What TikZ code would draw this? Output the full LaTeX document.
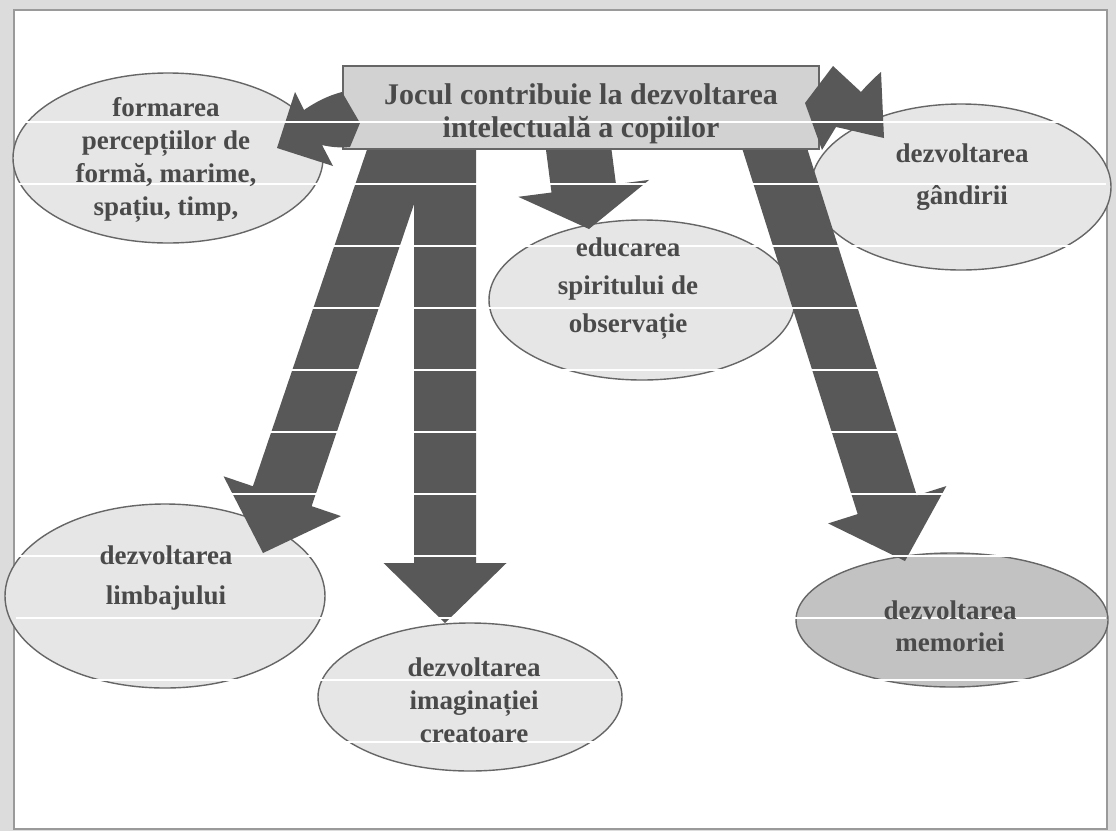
\documentclass[tikz,border=0pt]{standalone}
\usepackage{fontspec}
\setmainfont{Liberation Serif}
\usetikzlibrary{calc,shapes.geometric}
\definecolor{arrowgray}{HTML}{585858}
\definecolor{boxfill}{HTML}{D2D2D2}
\definecolor{ellfill}{HTML}{E6E6E6}
\definecolor{memfill}{HTML}{C2C2C2}
\definecolor{linegray}{HTML}{666666}
\definecolor{textgray}{HTML}{4A4A4A}
\definecolor{outerbg}{HTML}{DCDCDC}
\definecolor{framecol}{HTML}{9A9A9A}
\tikzset{
  ell/.style={ellipse, draw=linegray, line width=1.4pt, fill=ellfill, inner sep=0pt},
  mainbox/.style={rectangle, draw=linegray, line width=1.6pt, fill=boxfill, inner sep=0pt,
    minimum width=476pt, minimum height=83pt},
  lbl/.style={text=textgray, align=center, inner sep=0pt, font=\bfseries\fontsize{27}{33}\selectfont},
  arrowfill/.style={fill=arrowgray},
  stripe/.style={draw=white, line width=2pt}
}
% #1 start coordinate, #2 tip coordinate, #3 shaft half width, #4 head half width, #5 head length
\newcommand{\blockarrow}[5]{%
  \coordinate (#1-b) at ($(#2)!#5!(#1)$);
  \fill[arrowfill] ($(#1)!#3!90:(#2)$) -- ($(#1-b)!#3!90:(#2)$) -- ($(#1-b)!#4!90:(#2)$)
    -- (#2) -- ($(#1-b)!#4!-90:(#2)$) -- ($(#1-b)!#3!-90:(#2)$) -- ($(#1)!#3!-90:(#2)$) -- cycle;
}
\begin{document}
\begin{tikzpicture}[x=1pt,y=-1pt]
\useasboundingbox (0,0) rectangle (1116,831);
\fill[outerbg] (0,0) rectangle (1116,831);
\fill[white] (14,10) rectangle (1107,829);
\draw[framecol, line width=1.2pt] (14,10) rectangle (1107,829);

% ellipses
\node[ell, minimum width=310pt, minimum height=170pt] (form) at (168,158) {};
\node[ell, minimum width=300pt, minimum height=166pt] (gand) at (961,187) {};
\node[ell, minimum width=306pt, minimum height=160pt] (educ) at (642,300) {};
\node[ell, minimum width=320pt, minimum height=184pt] (limb) at (165,596) {};
\node[ell, minimum width=304pt, minimum height=148pt] (imag) at (470,697) {};
\node[ell, fill=memfill, minimum width=312pt, minimum height=134pt] (memo) at (952,620) {};

% long arrows (start under the box)
\coordinate (sC) at (403,140); \coordinate (tC) at (263,553);
\coordinate (sD) at (445,140); \coordinate (tD) at (445,623);
\coordinate (sE) at (578,144); \coordinate (tE) at (589,229);
\coordinate (sF) at (772,140); \coordinate (tF) at (905,561);
\blockarrow{sC}{tC}{31pt}{62pt}{60pt}
\blockarrow{sD}{tD}{31pt}{61.5pt}{60pt}
\blockarrow{sE}{tE}{32.5pt}{66pt}{41pt}
\blockarrow{sF}{tF}{31pt}{62pt}{59pt}

% main box
\node[mainbox] (box) at (581,107.5) {};

% curved side arrows
\coordinate (tA) at (277,148);
\fill[arrowfill] (tA) -- (295,92) -- (304,110) .. controls (317,101) and (330,95) .. (342,92)
  -- (360,123) -- (350,147) .. controls (340,148) and (330,147) .. (322,145) -- (333,166) -- cycle;
\coordinate (tB) at (805,103);
\fill[arrowfill] (tB) -- (833,66) -- (861,92) .. controls (867,85) and (874,78) .. (881,72)
  -- (884,138) .. controls (866,134) and (850,130) .. (836,127) -- (822,150) -- cycle;

% scan stripes
\foreach \yy in {122,184,...,804} \draw[stripe] (15.5,\yy) -- (1105.5,\yy);

% texts
\node[lbl, font=\bfseries\fontsize{30}{33}\selectfont] (boxt) at (581,114) {Jocul contribuie la dezvoltarea\\intelectuală a copiilor};
\node[lbl] (formt) at (166,160) {formarea\\percepțiilor de\\formă, marime,\\spațiu, timp,};
\node[lbl, font=\bfseries\fontsize{27}{42}\selectfont] (gandt) at (962,177) {dezvoltarea\\gândirii};
\node[lbl, font=\bfseries\fontsize{27}{38}\selectfont] (eduat) at (628,289) {educarea\\spiritului de\\observație};
\node[lbl, font=\bfseries\fontsize{27}{40}\selectfont] (limbt) at (166,578) {dezvoltarea\\limbajului};
\node[lbl] (imagt) at (474,700) {dezvoltarea\\imaginației\\creatoare};
\node[lbl, font=\bfseries\fontsize{27}{32}\selectfont] (memot) at (950,626) {dezvoltarea\\memoriei};
\end{tikzpicture}
\end{document}
